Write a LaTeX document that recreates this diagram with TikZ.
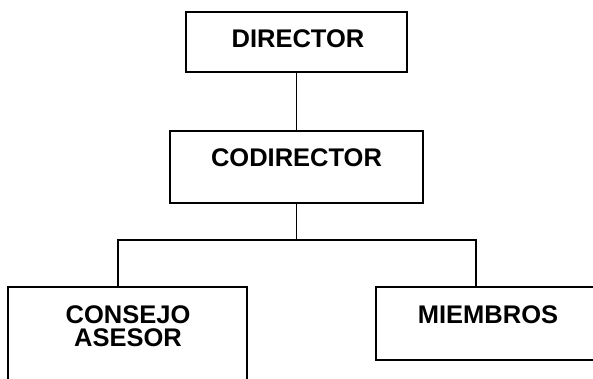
\documentclass[tikz,border=0pt]{standalone}
\usepackage{fontspec}
\setmainfont{Liberation Sans}
\begin{document}
\begin{tikzpicture}[x=1pt,y=-1pt,
  box/.style={draw, line width=1.2pt, rectangle, inner sep=0pt},
  lbl/.style={font=\bfseries\fontsize{25.5}{23}\selectfont, inner sep=0pt, align=center},
  link/.style={line width=1.2pt}]
\useasboundingbox (0,0) rectangle (593,379);
\clip (0,0) rectangle (593,379);
\node[box, minimum width=221pt, minimum height=60pt] (dir) at (296.5,42) {};
\node[lbl] (dirtxt) at (298,39) {DIRECTOR};
\node[box, minimum width=253pt, minimum height=72pt] (codir) at (296.5,167) {};
\node[lbl] (codirtxt) at (296.5,158) {CODIRECTOR};
\node[box, minimum width=239pt, minimum height=140pt] (consejo) at (127.5,357) {};
\node[lbl] (consejotxt) at (128,326.5) {CONSEJO\\ASESOR};
\node[box, minimum width=224pt, minimum height=73pt] (miembros) at (488,323.5) {};
\node[lbl] (miembrostxt) at (488,315) {MIEMBROS};
\coordinate (jl) at (118,240);
\coordinate (jr) at (476,240);
\draw[link] (dir.south) -- (codir.north);
\draw[link] (codir.south) -- (codir.south |- jl);
\draw[link] (consejo.north -| jl) -- (jl) -- (jr) -- (miembros.north -| jr);
\end{tikzpicture}
\end{document}
